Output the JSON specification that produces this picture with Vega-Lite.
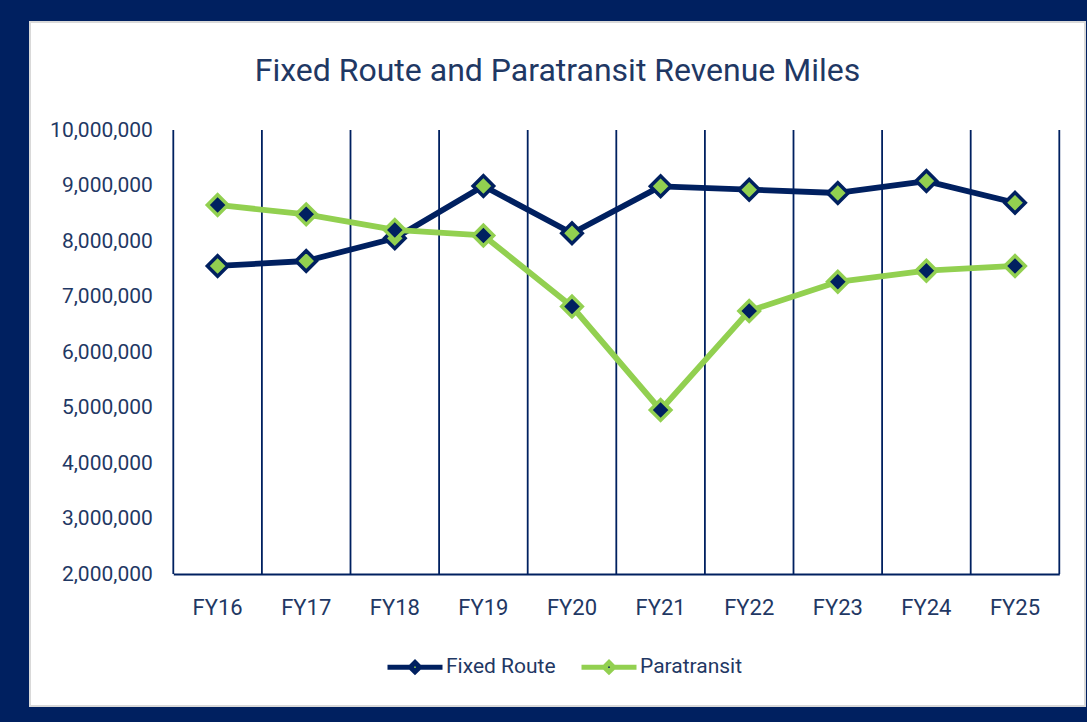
{
  "$schema": "https://vega.github.io/schema/vega-lite/v6.json",
  "autosize": {"type": "none"},
  "padding": {"left": 30, "top": 22, "right": 2, "bottom": 16},
  "width": 1055,
  "height": 684,
  "background": "#002060",
  "config": {
    "view": {"fill": "white", "stroke": "#d9d9d9", "strokeWidth": 2},
    "font": "Roboto",
    "axis": {"labelFont": "Roboto", "labelColor": "#1F3864"}
  },
  "title": {
    "text": "Fixed Route and Paratransit Revenue Miles",
    "font": "Roboto",
    "fontSize": 32,
    "fontWeight": "normal",
    "color": "#1F3864",
    "anchor": "middle",
    "frame": "group",
    "baseline": "alphabetic",
    "offset": -91
  },
  "data": {
    "values": [
      {"fy": "FY16", "series": "Fixed Route", "miles": 7550000},
      {"fy": "FY17", "series": "Fixed Route", "miles": 7640000},
      {"fy": "FY18", "series": "Fixed Route", "miles": 8050000},
      {"fy": "FY19", "series": "Fixed Route", "miles": 8990000},
      {"fy": "FY20", "series": "Fixed Route", "miles": 8140000},
      {"fy": "FY21", "series": "Fixed Route", "miles": 8985000},
      {"fy": "FY22", "series": "Fixed Route", "miles": 8925000},
      {"fy": "FY23", "series": "Fixed Route", "miles": 8865000},
      {"fy": "FY24", "series": "Fixed Route", "miles": 9080000},
      {"fy": "FY25", "series": "Fixed Route", "miles": 8690000},
      {"fy": "FY16", "series": "Paratransit", "miles": 8650000},
      {"fy": "FY17", "series": "Paratransit", "miles": 8480000},
      {"fy": "FY18", "series": "Paratransit", "miles": 8200000},
      {"fy": "FY19", "series": "Paratransit", "miles": 8100000},
      {"fy": "FY20", "series": "Paratransit", "miles": 6820000},
      {"fy": "FY21", "series": "Paratransit", "miles": 4955000},
      {"fy": "FY22", "series": "Paratransit", "miles": 6740000},
      {"fy": "FY23", "series": "Paratransit", "miles": 7265000},
      {"fy": "FY24", "series": "Paratransit", "miles": 7465000},
      {"fy": "FY25", "series": "Paratransit", "miles": 7550000}
    ]
  },
  "layer": [
    {
      "transform": [{"filter": "datum.series === 'Fixed Route'"}],
      "mark": {"type": "rule", "color": "#002060", "strokeWidth": 1.8},
      "encoding": {
        "x": {"field": "fy", "type": "ordinal", "bandPosition": 0},
        "y": {"datum": 2000000, "type": "quantitative"},
        "y2": {"datum": 10000000}
      }
    },
    {
      "transform": [{"filter": "datum.series === 'Fixed Route' && datum.fy === 'FY25'"}],
      "mark": {"type": "rule", "color": "#002060", "strokeWidth": 1.8},
      "encoding": {
        "x": {"field": "fy", "type": "ordinal", "bandPosition": 1},
        "y": {"datum": 2000000, "type": "quantitative"},
        "y2": {"datum": 10000000}
      }
    },
    {
      "mark": {"type": "line", "strokeWidth": 5.8, "strokeJoin": "round"},
      "encoding": {
        "x": {"field": "fy", "type": "ordinal"},
        "y": {"field": "miles", "type": "quantitative"},
        "stroke": {"field": "series", "type": "nominal"}
      }
    },
    {
      "mark": {"type": "point", "shape": "diamond", "size": 420, "strokeWidth": 3.5, "filled": false, "opacity": 1},
      "encoding": {
        "x": {"field": "fy", "type": "ordinal"},
        "y": {"field": "miles", "type": "quantitative"},
        "stroke": {"field": "series", "type": "nominal"},
        "fill": {
          "field": "series",
          "type": "nominal",
          "scale": {"domain": ["Fixed Route", "Paratransit"], "range": ["#92D050", "#002060"]},
          "legend": null
        },
        "fillOpacity": {"value": 1}
      }
    }
  ],
  "encoding": {
    "x": {
      "field": "fy",
      "type": "ordinal",
      "scale": {"type": "band", "range": [143.3, 1029.3], "paddingInner": 0, "paddingOuter": 0},
      "axis": {
        "title": null,
        "labelAngle": 0,
        "labelFontSize": 22,
        "labelPadding": 23,
        "ticks": false,
        "grid": false,
        "domain": true,
        "domainColor": "#002060",
        "domainWidth": 2,
        "offset": -132
      }
    },
    "y": {
      "field": "miles",
      "type": "quantitative",
      "scale": {"domain": [2000000, 10000000], "range": [552, 108], "nice": false, "zero": false},
      "axis": {
        "title": null,
        "values": [2000000, 3000000, 4000000, 5000000, 6000000, 7000000, 8000000, 9000000, 10000000],
        "format": ",.0f",
        "labelFontSize": 21,
        "labelPadding": 21,
        "ticks": false,
        "grid": false,
        "domain": false,
        "offset": -143.3
      }
    },
    "stroke": {
      "field": "series",
      "type": "nominal",
      "scale": {"domain": ["Fixed Route", "Paratransit"], "range": ["#002060", "#92D050"]},
      "legend": {
        "title": null,
        "orient": "none",
        "legendX": 355,
        "legendY": 615,
        "direction": "horizontal",
        "symbolType": "M-1,0L-0.17,0M0.17,0L1,0M0,-0.17L0.17,0L0,0.17L-0.17,0Z",
        "symbolSize": 3025,
        "symbolStrokeWidth": 5,
        "labelFont": "Roboto",
        "labelFontSize": 21,
        "labelColor": "#1F3864",
        "labelOffset": 1,
        "columnPadding": 15,
        "encode": {
          "symbols": {
            "update": {
              "fill": {"signal": "datum.value === 'Fixed Route' ? '#92D050' : '#002060'"},
              "fillOpacity": {"value": 1},
              "opacity": {"value": 1}
            }
          }
        }
      }
    }
  }
}
